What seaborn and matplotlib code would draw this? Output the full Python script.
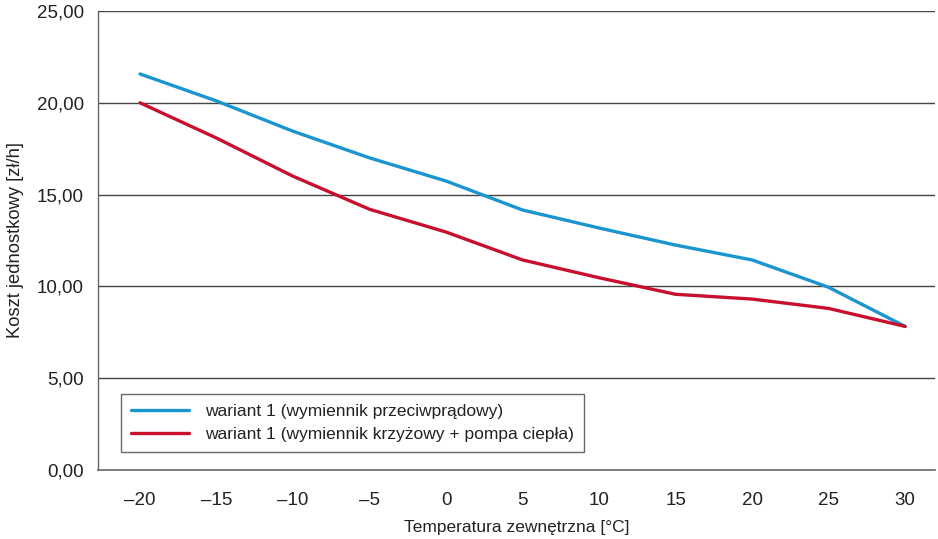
import matplotlib
matplotlib.use("Agg")
import matplotlib.pyplot as plt
import seaborn as sns
import pandas as pd
import numpy as np
from matplotlib.ticker import FixedLocator, FuncFormatter

temps = [-20, -15, -10, -5, 0, 5, 10, 15, 20, 25, 30]
wariant_przeciwpradowy = [21.57, 20.1, 18.45, 17.0, 15.74, 14.16, 13.18, 12.25, 11.44, 9.95, 7.82]
wariant_krzyzowy = [20.0, 18.08, 16.0, 14.2, 12.96, 11.44, 10.47, 9.57, 9.31, 8.8, 7.82]
series_names = ["wariant 1 (wymiennik przeciwprądowy)",
                "wariant 1 (wymiennik krzyżowy + pompa ciepła)"]
y_ticks = [0, 5, 10, 15, 20, 25]

sns.set_style("white")
plt.rcParams['font.family'] = ['Liberation Sans', 'DejaVu Sans']

idx = list(range(len(temps)))
df = pd.DataFrame({
    "idx": idx * 2,
    "value": wariant_przeciwpradowy + wariant_krzyzowy,
    "series": [series_names[0]] * len(temps) + [series_names[1]] * len(temps),
})

fig = plt.figure(figsize=(9.38, 5.39), dpi=100)
ax = fig.add_axes([98/938, 69/539, (935-98)/938, (470-11)/539])

palette = {series_names[0]: "#1b95cf", series_names[1]: "#c8102e"}
sns.lineplot(data=df, x="idx", y="value", hue="series", palette=palette,
             linewidth=2.4, ax=ax, legend=True)

ax.set_xlim(-0.549, 10.39)
ax.set_ylim(0, 25)
ax.set_yticks(y_ticks)
ax.yaxis.set_major_formatter(FuncFormatter(lambda v, p: f"{v:.2f}".replace(".", ",")))
ax.set_xticks(idx)
ax.set_xticklabels([f"{t}".replace("-", "\u2013") for t in temps])
ax.xaxis.set_minor_locator(FixedLocator([i + 0.5 for i in idx[:-1]]))
ax.tick_params(axis="x", which="major", length=0, pad=16, labelsize=13.5, colors="#222222")
ax.tick_params(axis="x", which="minor", length=8, width=1, color="#555555", direction="out")
ax.tick_params(axis="y", which="major", length=8, width=1, color="#555555", pad=2,
               labelsize=13.5, labelcolor="#222222", direction="out")

for y in y_ticks[1:]:
    ax.axhline(y, color="#444444", linewidth=1, zorder=0)

for side in ["top", "right"]:
    ax.spines[side].set_visible(False)
ax.spines["left"].set_color("#666666")
ax.spines["bottom"].set_color("#666666")
ax.spines["left"].set_linewidth(1)
ax.spines["bottom"].set_linewidth(1.2)

ax.set_xlabel("Temperatura zewnętrzna [°C]", fontsize=12.5, color="#222222", labelpad=8)
ax.set_ylabel("Koszt jednostkowy [zł/h]", fontsize=13.2, color="#222222", labelpad=9)

leg = ax.legend(loc="lower left", bbox_to_anchor=((121-98)/837, (470-452)/459),
                frameon=True, fancybox=False, fontsize=12.5, handlelength=3.3,
                borderpad=0.6, labelspacing=0.4, handletextpad=0.95, borderaxespad=0)
leg.get_frame().set_edgecolor("#444444")
leg.get_frame().set_linewidth(1)
for t in leg.get_texts():
    t.set_color("#222222")

fig.savefig("out.png", dpi=100)
